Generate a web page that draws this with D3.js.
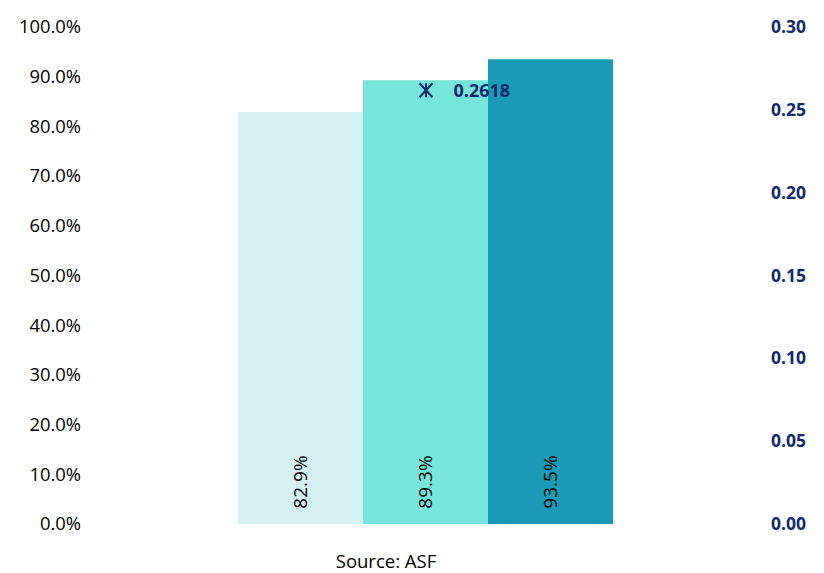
<!DOCTYPE html>
<html>
<head>
<meta charset="utf-8">
<script src="https://cdn.jsdelivr.net/npm/d3@7"></script>
<style>
  body { margin: 0; background: #fff; }
  svg text { font-family: "Open Sans", Lato, sans-serif; }
</style>
</head>
<body>
<svg id="chart" width="824" height="573"></svg>
<script>
// Categories and values
const categories = ["A", "B", "C"];
const shares = [0.829, 0.893, 0.935];
const barColors = ["#d5f1f3", "#76e5db", "#1a9bb5"];
const markerValue = 0.2618;
const markerCategory = "B";
const leftTicks = [0, 0.1, 0.2, 0.3, 0.4, 0.5, 0.6, 0.7, 0.8, 0.9, 1.0];
const rightTicks = [0, 0.05, 0.10, 0.15, 0.20, 0.25, 0.30];
const sourceText = "Source: ASF";

const svg = d3.select("#chart");
const plotTop = 27, plotBottom = 524;
const navy = "#12296b";
const fontFam = "'Open Sans', Lato, sans-serif";

const x = d3.scaleBand().domain(categories).range([238, 613]).padding(0);
const yL = d3.scaleLinear().domain([0, 1]).range([plotBottom, plotTop]);
const yR = d3.scaleLinear().domain([0, 0.30]).range([plotBottom, plotTop]);

// Left axis (share)
const leftAxis = d3.axisLeft(yL).tickValues(leftTicks)
  .tickFormat(d3.format(".1%")).tickSize(0).tickPadding(0);
const gL = svg.append("g").attr("transform", "translate(81,0)").call(leftAxis);
gL.select(".domain").remove();
gL.selectAll("text").attr("font-size", 18.4).attr("fill", "#000")
  .attr("font-family", fontFam);

// Right axis (secondary value)
const rightAxis = d3.axisRight(yR).tickValues(rightTicks)
  .tickFormat(d3.format(".2f")).tickSize(0).tickPadding(0);
const gR = svg.append("g").attr("transform", "translate(771,0)").call(rightAxis);
gR.select(".domain").remove();
gR.selectAll("text").attr("font-size", 17.5).attr("font-weight", "bold")
  .attr("fill", navy).attr("font-family", fontFam);

// Bars
svg.selectAll("rect.bar").data(categories).enter().append("rect")
  .attr("class", "bar")
  .attr("x", d => x(d))
  .attr("width", x.bandwidth())
  .attr("y", (d, i) => yL(shares[i]))
  .attr("height", (d, i) => plotBottom - yL(shares[i]))
  .attr("fill", (d, i) => barColors[i]);

// Value labels inside bars
svg.selectAll("text.val").data(categories).enter().append("text")
  .attr("class", "val")
  .attr("transform", d => `translate(${x(d) + x.bandwidth() / 2 + 6.5},482) rotate(-90)`)
  .attr("text-anchor", "middle")
  .attr("font-size", 19)
  .attr("fill", "#000")
  .text((d, i) => d3.format(".1%")(shares[i]));

// Marker on secondary axis
const mx = x(markerCategory) + x.bandwidth() / 2 + 0.5;
const my = yR(markerValue);
const m = svg.append("g").attr("transform", `translate(${mx},${my})`)
  .attr("stroke", navy).attr("stroke-width", 2).attr("fill", "none");
m.append("line").attr("x1", -6.5).attr("y1", -7).attr("x2", 6.5).attr("y2", 7);
m.append("line").attr("x1", -6.5).attr("y1", 7).attr("x2", 6.5).attr("y2", -7);
m.append("line").attr("x1", 0).attr("y1", -7).attr("x2", 0).attr("y2", 7);

svg.append("text")
  .attr("x", mx + 27.5).attr("y", my + 6.5)
  .attr("font-size", 18).attr("font-weight", "bold").attr("fill", navy)
  .text(d3.format(".4f")(markerValue));

// Source note
svg.append("text").attr("x", 386).attr("y", 567.5)
  .attr("text-anchor", "middle").attr("font-size", 18.5).attr("fill", "#000")
  .text(sourceText);
</script>
</body>
</html>
